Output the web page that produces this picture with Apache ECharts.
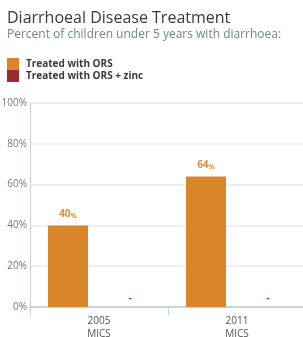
<!DOCTYPE html>
<html><head><meta charset="utf-8">
<script src="https://cdn.jsdelivr.net/npm/echarts@6/dist/echarts.min.js"></script>
<style>html,body{margin:0;padding:0;background:#fff}#c{width:303px;height:337px}</style>
</head><body><div id="c"></div>
<script>
const categories = ['2005\nMICS', '2011\nMICS'];
const seriesNames = ['Treated with ORS', 'Treated with ORS + zinc'];
const orsValues = [40, 64];
const orsZincValues = [0, 0];
const orsZincMissing = [true, true];
const yTicks = [0, 20, 40, 60, 80, 100];

const chart = echarts.init(document.getElementById('c'));
const font = '"Open Sans", sans-serif';
chart.setOption({
  animation: false,
  textStyle: { fontFamily: font },
  title: {
    text: 'Diarrhoeal Disease Treatment',
    subtext: 'Percent of children under 5 years with diarrhoea:',
    left: 2, top: 5, itemGap: 3,
    textStyle: { fontFamily: font, fontSize: 16, fontWeight: 'normal', color: '#3a3a3a' },
    subtextStyle: { fontFamily: font, fontSize: 12, color: '#6f8797' }
  },
  legend: {
    orient: 'vertical', left: 7, top: 58, itemGap: 0, padding: 0,
    itemWidth: 12, itemHeight: 12, icon: 'rect',
    textStyle: { fontFamily: font, fontSize: 10, fontWeight: 'bold', color: '#3a3a3a', padding: [0, 0, 0, 2] },
    data: seriesNames
  },
  grid: { left: 30, right: -3, top: 103, bottom: 30, outerBoundsMode: 'none', containLabel: false },
  xAxis: {
    type: 'category', data: categories,
    axisLine: { lineStyle: { color: '#c9d3e6', width: 2 } },
    axisTick: { show: true, length: 8, lineStyle: { color: '#c9d3e6' } },
    axisLabel: { color: '#555', fontSize: 10, lineHeight: 13, margin: 8 }
  },
  yAxis: {
    type: 'value', min: yTicks[0], max: yTicks[yTicks.length - 1], interval: 20,
    axisLine: { show: true, lineStyle: { color: '#c9d3e6', width: 1 } },
    axisTick: { show: false },
    splitLine: { lineStyle: { color: '#eeeeee', width: 2 } },
    axisLabel: { color: '#777', fontSize: 10, margin: 3, formatter: v => v + '%' }
  },
  series: [
    {
      name: seriesNames[0], type: 'bar', data: orsValues,
      barWidth: 40, barGap: '55%',
      itemStyle: { color: '#d9852a' },
      label: {
        show: true, position: 'top', distance: 6,
        formatter: p => '{v|' + p.value + '}{p|%}',
        rich: {
          v: { color: '#e08f35', fontSize: 10, fontWeight: 'bold', fontFamily: font },
          p: { color: '#e08f35', fontSize: 7, fontWeight: 'bold', fontFamily: font, verticalAlign: 'bottom' }
        }
      }
    },
    {
      name: seriesNames[1], type: 'bar', data: orsZincValues,
      barWidth: 40,
      itemStyle: { color: '#9b2a2e' },
      label: {
        show: true, position: 'top', distance: 4,
        formatter: p => orsZincMissing[p.dataIndex] ? '-' : p.value + '%',
        color: '#c0202a', fontSize: 10, fontWeight: 'bold'
      }
    }
  ]
});
</script></body></html>
